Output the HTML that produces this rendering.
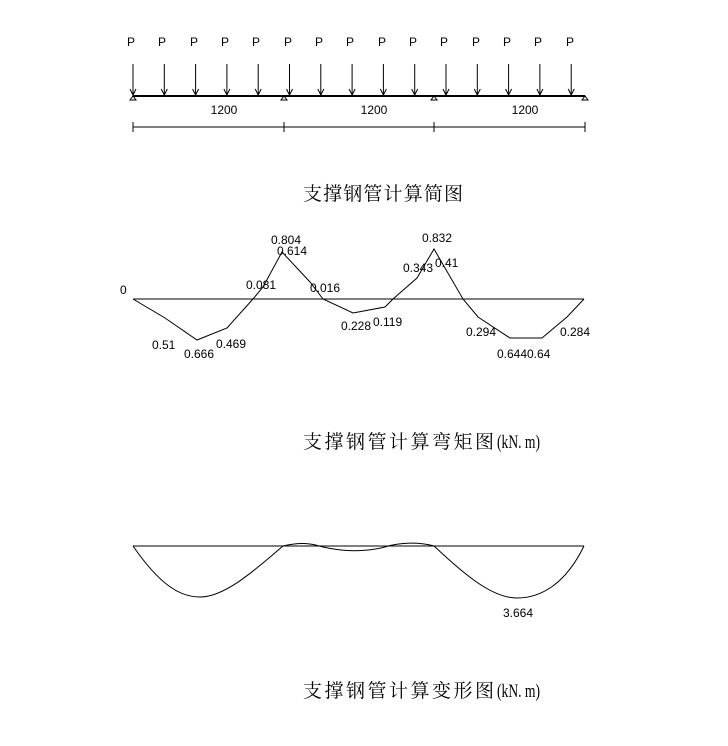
<!DOCTYPE html>
<html><head><meta charset="utf-8"><style>
body{margin:0;background:#fff;}
svg{display:block}
.t{font-family:"Liberation Sans",sans-serif;font-size:12px;fill:#000}
.c{font-family:"Liberation Serif","Noto Serif CJK SC","Noto Sans CJK SC",serif;font-size:19px;fill:#000}
</style></head><body>
<svg width="728" height="746" viewBox="0 0 728 746" xmlns="http://www.w3.org/2000/svg">
<g stroke="#000" fill="none" stroke-width="1">
<line x1="133" y1="96" x2="585" y2="96" stroke-width="2"/>
<line x1="133" y1="127" x2="585" y2="127"/>
<line x1="133" y1="122" x2="133" y2="132"/><line x1="284" y1="122" x2="284" y2="132"/>
<line x1="434" y1="122" x2="434" y2="132"/><line x1="585" y1="122" x2="585" y2="132"/>
<path d="M130 100 L133 96 L136 100 Z M281 100 L284 96 L287 100 Z M431 100 L434 96 L437 100 Z M582 100 L585 96 L588 100 Z"/>
<path d="M133 64V95M130 89L133 95L136 89"/>
<path d="M164.3 64V95M161.3 89L164.3 95L167.3 89"/>
<path d="M195.6 64V95M192.6 89L195.6 95L198.6 89"/>
<path d="M226.9 64V95M223.9 89L226.9 95L229.9 89"/>
<path d="M258.2 64V95M255.2 89L258.2 95L261.2 89"/>
<path d="M289.5 64V95M286.5 89L289.5 95L292.5 89"/>
<path d="M320.8 64V95M317.8 89L320.8 95L323.8 89"/>
<path d="M352.1 64V95M349.1 89L352.1 95L355.1 89"/>
<path d="M383.4 64V95M380.4 89L383.4 95L386.4 89"/>
<path d="M414.7 64V95M411.7 89L414.7 95L417.7 89"/>
<path d="M446 64V95M443 89L446 95L449 89"/>
<path d="M477.3 64V95M474.3 89L477.3 95L480.3 89"/>
<path d="M508.6 64V95M505.6 89L508.6 95L511.6 89"/>
<path d="M539.9 64V95M536.9 89L539.9 95L542.9 89"/>
<path d="M571.2 64V95M568.2 89L571.2 95L574.2 89"/>
</g>
<g class="t" font-size="13">
<text x="131" y="46" text-anchor="middle">P</text><text x="162" y="46" text-anchor="middle">P</text><text x="194" y="46" text-anchor="middle">P</text><text x="225" y="46" text-anchor="middle">P</text><text x="256" y="46" text-anchor="middle">P</text><text x="288" y="46" text-anchor="middle">P</text><text x="319" y="46" text-anchor="middle">P</text><text x="350" y="46" text-anchor="middle">P</text><text x="382" y="46" text-anchor="middle">P</text><text x="413" y="46" text-anchor="middle">P</text><text x="444" y="46" text-anchor="middle">P</text><text x="476" y="46" text-anchor="middle">P</text><text x="507" y="46" text-anchor="middle">P</text><text x="538" y="46" text-anchor="middle">P</text><text x="570" y="46" text-anchor="middle">P</text>
</g>
<g class="t">
<text x="224" y="114" text-anchor="middle">1200</text><text x="374" y="114" text-anchor="middle">1200</text><text x="525" y="114" text-anchor="middle">1200</text>
</g>
<text class="c" x="303" y="200" textLength="160" lengthAdjust="spacing">支撑钢管计算简图</text>
<g stroke="#000" fill="none">
<line x1="133" y1="299" x2="584" y2="299"/>
<polyline points="133,299 165,318 197,340 227,328 253,299 263,287 282,252 310,282 323,299 353,313 385,307 393,299 417,278 434,249 463,299 478,317 510,338 542,338 567,317 584,299"/>
</g>
<g class="t">
<text x="120" y="294">0</text>
<text x="152" y="349">0.51</text><text x="184" y="358">0.666</text><text x="216" y="348">0.469</text>
<text x="246" y="289">0.081</text><text x="271" y="244">0.804</text><text x="277" y="255">0.614</text>
<text x="310" y="292">0.016</text><text x="341" y="330">0.228</text><text x="373" y="326">0.119</text>
<text x="403" y="272">0.343</text><text x="422" y="242">0.832</text><text x="435" y="267">0.41</text>
<text x="466" y="336">0.294</text><text x="497" y="358">0.644</text><text x="527" y="358">0.64</text><text x="560" y="336">0.284</text>
</g>
<text class="c" x="303" y="448" textLength="191" lengthAdjust="spacing">支撑钢管计算弯矩图</text>
<text class="c" x="497" y="448" textLength="43" lengthAdjust="spacingAndGlyphs">(kN. m)</text>
<g stroke="#000" fill="none">
<line x1="133" y1="546" x2="584" y2="546"/>
<path d="M133 546 C160 585 180 597 200 597 C225 597 255 570 283 546"/>
<path d="M283 546 C300 542 310 543 323 547 C345 552 365 552 385 547 C400 542 420 542 434 546"/>
<path d="M434 546 C460 570 490 598 517 598 C540 598 565 585 584 546"/>
</g>
<text class="t" x="518" y="617" text-anchor="middle">3.664</text>
<text class="c" x="303" y="697" textLength="191" lengthAdjust="spacing">支撑钢管计算变形图</text>
<text class="c" x="497" y="697" textLength="43" lengthAdjust="spacingAndGlyphs">(kN. m)</text>
</svg>
</body></html>
